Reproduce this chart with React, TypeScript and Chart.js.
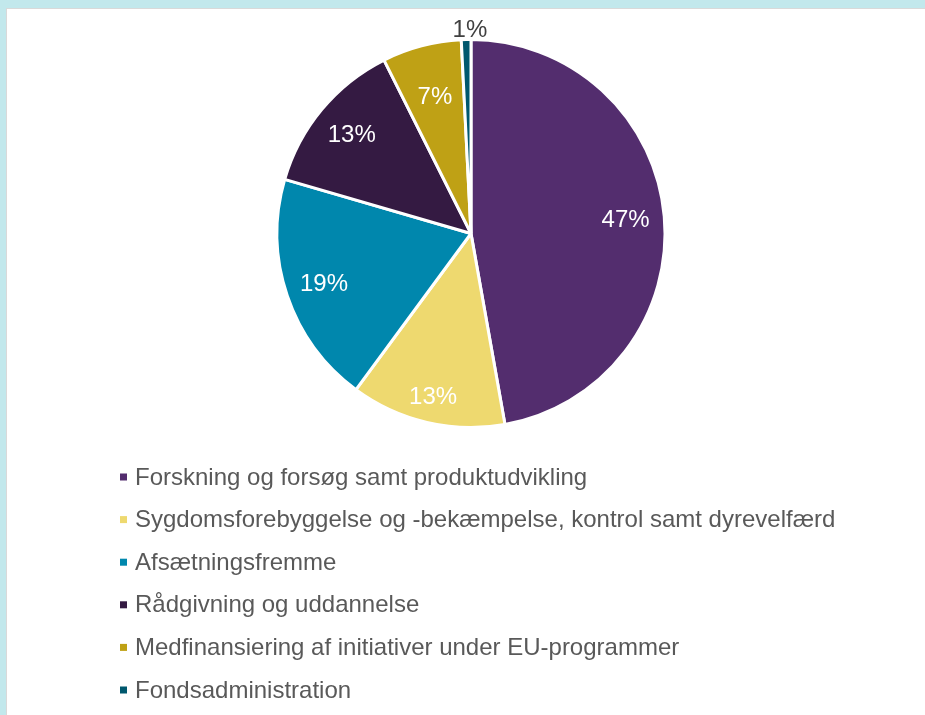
import React, { useEffect, useRef } from "react";
import { Chart, registerables } from "chart.js";

Chart.register(...registerables);

const categories = [
  "Forskning og forsøg samt produktudvikling",
  "Sygdomsforebyggelse og -bekæmpelse, kontrol samt dyrevelfærd",
  "Afsætningsfremme",
  "Rådgivning og uddannelse",
  "Medfinansiering af initiativer under EU-programmer",
  "Fondsadministration",
];
const shares = [47.2, 12.9, 19.4, 13.1, 6.6, 0.8];
const colors = ["#532d6e", "#eed96f", "#0087ad", "#341a42", "#bfa115", "#00586e"];

const FONT = '"Liberation Sans", Arial, sans-serif';

const labelPlugin = {
  id: "sliceLabels",
  afterDatasetsDraw(chart: any) {
    const ctx = chart.ctx;
    const meta = chart.getDatasetMeta(0);
    const data = chart.data.datasets[0].data as number[];
    const total = data.reduce((a, b) => a + b, 0);
    ctx.save();
    ctx.font = `24px ${FONT}`;
    ctx.textAlign = "center";
    ctx.textBaseline = "middle";
    meta.data.forEach((arc: any, i: number) => {
      const { x, y, startAngle, endAngle, outerRadius } = arc.getProps(
        ["x", "y", "startAngle", "endAngle", "outerRadius"],
        true
      );
      const mid = (startAngle + endAngle) / 2;
      const pct = (data[i] / total) * 100;
      const text = Math.round(pct) + "%";
      let r: number;
      if (pct < 3) {
        r = outerRadius + 10;
        ctx.fillStyle = "#404040";
      } else {
        let f = 0.8;
        if (pct < 10) f = 0.73;
        else if (pct < 15 && Math.cos(mid) < 0 && Math.sin(mid) > 0.5) f = 0.86;
        r = outerRadius * f;
        ctx.fillStyle = "#ffffff";
      }
      ctx.fillText(text, x + Math.cos(mid) * r + (pct < 3 ? 4 : 0), y + Math.sin(mid) * r + 1);
    });
    ctx.restore();
  },
};

const legendPlugin = {
  id: "listLegend",
  afterDraw(chart: any) {
    const ctx = chart.ctx;
    const labels = chart.data.labels as string[];
    const bg = chart.data.datasets[0].backgroundColor as string[];
    ctx.save();
    ctx.font = `24px ${FONT}`;
    ctx.textAlign = "left";
    ctx.textBaseline = "middle";
    const x0 = 113;
    const y0 = 468;
    const step = 42.6;
    labels.forEach((lab, i) => {
      const y = y0 + i * step;
      ctx.fillStyle = bg[i];
      ctx.fillRect(x0, y - 3.5, 7, 7);
      ctx.fillStyle = "#595959";
      ctx.fillText(lab, x0 + 15, y + 1);
    });
    ctx.restore();
  },
};

export default function App() {
  const ref = useRef<HTMLCanvasElement>(null);
  useEffect(() => {
    if (!ref.current) return;
    const chart = new Chart(ref.current, {
      type: "pie",
      data: {
        labels: categories,
        datasets: [
          {
            data: shares,
            backgroundColor: colors,
            borderColor: "#ffffff",
            borderWidth: 3,
            hoverOffset: 0,
          },
        ],
      },
      options: {
        responsive: false,
        animation: false,
        layout: { padding: { top: 29, bottom: 286, left: 10, right: 0 } },
        plugins: {
          legend: { display: false },
          tooltip: { enabled: false },
        },
      },
      plugins: [labelPlugin, legendPlugin],
    });
    return () => chart.destroy();
  }, []);
  return (
    <div
      style={{
        position: "fixed",
        left: 0,
        top: 0,
        width: 925,
        height: 715,
        background: "#c2e8ec",
        overflow: "hidden",
      }}
    >
      <div
        style={{
          position: "absolute",
          left: 6,
          top: 8,
          width: 925,
          height: 715,
          background: "#ffffff",
          borderTop: "1px solid #d9d9d9",
          borderLeft: "1px solid #d9d9d9",
        }}
      >
        <canvas ref={ref} width={918} height={706} style={{ display: "block" }} />
      </div>
    </div>
  );
}
